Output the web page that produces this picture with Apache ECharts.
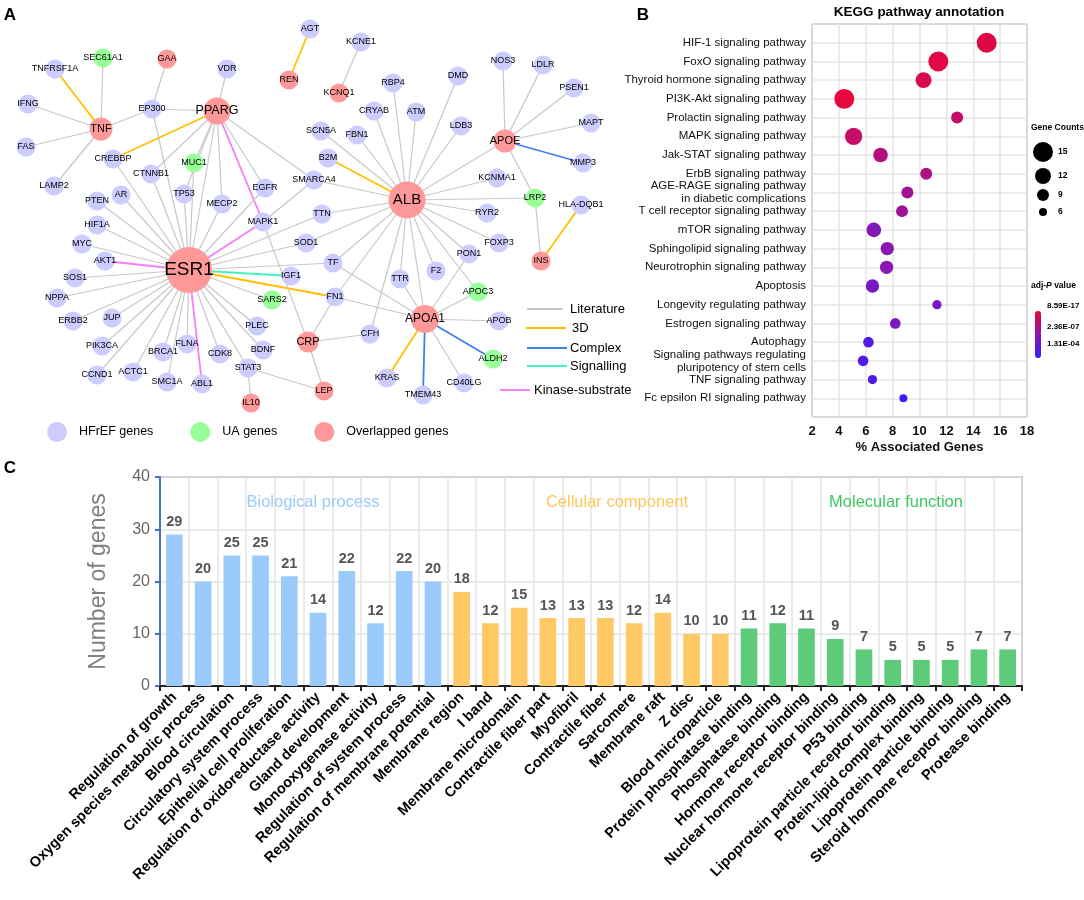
<!DOCTYPE html>
<html><head><meta charset="utf-8">
<script src="https://cdn.jsdelivr.net/npm/echarts@6/dist/echarts.min.js"></script>
<style>html,body{margin:0;padding:0;background:#fff}#c{width:1084px;height:900px}</style>
</head><body><div id="c"></div>
<script>
// ================= Panel A : network =================
const geneNames = ['SEC61A1','TNFRSF1A','GAA','VDR','IFNG','EP300','PPARG','TNF','FAS','CREBBP','MUC1','CTNNB1','LAMP2','AR','PTEN','TP53','MECP2','EGFR','HIF1A','MAPK1','MYC','AKT1','ESR1','SOS1','NPPA','JUP','ERBB2','PIK3CA','BRCA1','FLNA','CDK8','STAT3','CCND1','ACTC1','SMC1A','ABL1','IL10','PLEC','BDNF','SARS2','IGF1','AGT','KCNE1','REN','KCNQ1','RBP4','DMD','NOS3','CRYAB','ATM','LDB3','SCN5A','FBN1','APOE','B2M','KCNMA1','SMARCA4','ALB','LDLR','PSEN1','MAPT','MMP3','LRP2','HLA-DQB1','RYR2','FOXP3','INS','TTN','SOD1','TF','PON1','TTR','F2','APOC3','FN1','APOA1','APOB','CFH','CRP','ALDH2','KRAS','CD40LG','LEP','TMEM43'];
// 0 = HFrEF genes, 1 = UA genes, 2 = Overlapped genes
const geneGroup = [1,0,2,0,0,0,2,2,0,0,1,0,0,0,0,0,0,0,0,0,0,0,2,0,0,0,0,0,0,0,0,0,0,0,0,0,2,0,0,1,0,0,0,2,2,0,0,0,0,0,0,0,0,2,0,0,0,2,0,0,0,0,1,0,0,0,2,0,0,0,0,0,0,1,0,2,0,0,2,1,0,0,2,0];
const geneX = [103,55,167,227,28,152,217,101,26,113,194,151,54,121,97,184,222,265,97,263,82,105,189,75,57,112,73,102,163,187,220,248,97,133,167,202,251,257,263,272,291,310,361,289,339,393,458,503,374,416,461,321,357,505,328,497,314,407,543,574,591,583,535,581,487,499,541,322,306,333,469,400,436,478,335,425,499,370,308,493,387,464,324,423];
const geneY = [58,69,59,69,104,109,111,129,147,159,163,174,186,195,201,194,204,188,225,222,244,261,270,278,298,318,321,346,352,344,354,368,375,372,382,384,403,326,350,300,276,29,42,80,93,83,76,61,111,112,126,131,135,141,158,178,180,200,65,88,123,163,198,205,213,243,261,214,243,263,254,279,271,292,297,319,321,334,342,359,378,383,391,395];
const nodeGroups = ['HFrEF genes','UA genes','Overlapped genes'];
const edgeTypes = ['Literature','3D','Complex','Signalling','Kinase-substrate'];
const edges = [
 ['TNF','TNFRSF1A','3D'],['TNF','SEC61A1','Literature'],['TNF','IFNG','Literature'],['TNF','FAS','Literature'],['TNF','LAMP2','Literature'],['TNF','EP300','Literature'],
 ['EP300','GAA','Literature'],['EP300','PPARG','Literature'],['EP300','ESR1','Literature'],
 ['PPARG','VDR','Literature'],['PPARG','CREBBP','3D'],['PPARG','CTNNB1','Literature'],['PPARG','MUC1','Literature'],['PPARG','TP53','Literature'],['PPARG','MECP2','Literature'],['PPARG','MAPK1','Kinase-substrate'],['PPARG','EGFR','Literature'],['PPARG','SMARCA4','Literature'],['PPARG','ESR1','Literature'],
 ['ESR1','CREBBP','Literature'],['ESR1','CTNNB1','Literature'],['ESR1','TP53','Literature'],['ESR1','MECP2','Literature'],['ESR1','MUC1','Literature'],['ESR1','AR','Literature'],['ESR1','PTEN','Literature'],['ESR1','HIF1A','Literature'],['ESR1','MYC','Literature'],['ESR1','AKT1','Kinase-substrate'],['ESR1','SOS1','Literature'],['ESR1','NPPA','Literature'],['ESR1','ERBB2','Literature'],['ESR1','JUP','Literature'],['ESR1','PIK3CA','Literature'],['ESR1','CCND1','Literature'],['ESR1','ACTC1','Literature'],['ESR1','BRCA1','Literature'],['ESR1','SMC1A','Literature'],['ESR1','FLNA','Literature'],['ESR1','ABL1','Kinase-substrate'],['ESR1','CDK8','Literature'],['ESR1','STAT3','Literature'],['ESR1','BDNF','Literature'],['ESR1','PLEC','Literature'],['ESR1','SARS2','Literature'],['ESR1','FN1','3D'],['ESR1','IGF1','Signalling'],['ESR1','TF','Literature'],['ESR1','SOD1','Literature'],['ESR1','TTN','Literature'],['ESR1','MAPK1','Kinase-substrate'],['ESR1','EGFR','Literature'],
 ['MAPK1','SMARCA4','Literature'],['MAPK1','CRP','Literature'],
 ['ALB','B2M','3D'],['ALB','SCN5A','Literature'],['ALB','FBN1','Literature'],['ALB','CRYAB','Literature'],['ALB','RBP4','Literature'],['ALB','ATM','Literature'],['ALB','DMD','Literature'],['ALB','LDB3','Literature'],['ALB','APOE','Literature'],['ALB','KCNMA1','Literature'],['ALB','LRP2','Literature'],['ALB','RYR2','Literature'],['ALB','FOXP3','Literature'],['ALB','PON1','Literature'],['ALB','APOC3','Literature'],['ALB','F2','Literature'],['ALB','APOA1','Literature'],['ALB','TTR','Literature'],['ALB','CFH','Literature'],['ALB','FN1','Literature'],['ALB','TF','Literature'],['ALB','SOD1','Literature'],['ALB','TTN','Literature'],['ALB','SMARCA4','Literature'],
 ['APOA1','TF','Literature'],['APOA1','FN1','Literature'],['APOA1','TTR','Literature'],['APOA1','PON1','Literature'],['APOA1','APOC3','Literature'],['APOA1','APOB','Literature'],['APOA1','ALDH2','Complex'],['APOA1','CD40LG','Literature'],['APOA1','TMEM43','Complex'],['APOA1','KRAS','3D'],
 ['CRP','FN1','Literature'],['CRP','CFH','Literature'],['CRP','LEP','Literature'],
 ['STAT3','IL10','Literature'],['STAT3','LEP','Literature'],
 ['APOE','NOS3','Literature'],['APOE','LDLR','Literature'],['APOE','PSEN1','Literature'],['APOE','MAPT','Literature'],['APOE','MMP3','Complex'],['APOE','LRP2','Literature'],
 ['LRP2','INS','Literature'],['INS','HLA-DQB1','3D'],['AGT','REN','3D'],['KCNE1','KCNQ1','Literature']
];

// ================= Panel B : KEGG bubbles =================
const pathways = ['HIF-1 signaling pathway','FoxO signaling pathway','Thyroid hormone signaling pathway','PI3K-Akt signaling pathway','Prolactin signaling pathway','MAPK signaling pathway','Jak-STAT signaling pathway','ErbB signaling pathway','AGE-RAGE signaling pathway\nin diabetic complications','T cell receptor signaling pathway','mTOR signaling pathway','Sphingolipid signaling pathway','Neurotrophin signaling pathway','Apoptosis','Longevity regulating pathway','Estrogen signaling pathway','Autophagy','Signaling pathways regulating\npluripotency of stem cells','TNF signaling pathway','Fc epsilon RI signaling pathway'];
const pctGenes = [15.0,11.4,10.3,4.4,12.8,5.1,7.1,10.5,9.1,8.7,6.6,7.6,7.55,6.5,11.3,8.2,6.2,5.8,6.5,8.8];
const geneCounts = [15,15,12,15,9,13,11,9,9,9,11,10,10,10,7,8,8,8,7,6];
// -log10(adj-P)
const adjPScore = [15.5,15.6,15.1,16.07,13.6,13.9,12.7,12.4,11.4,11.2,9.4,10,10,8.5,8.5,8.8,5.7,5.6,5.5,4.5];
const countLegend = [15,12,9,6];
const pLegendLabels = ['8.59E-17','2.36E-07','1.31E-04'];
const pScoreRange = [3.88,16.07];

// ================= Panel C : GO bars =================
const goTerms = ['Regulation of growth','Oxygen species metabolic process','Blood circulation','Circulatory system process','Epithelial cell proliferation','Regulation of oxidoreductase activity','Gland development','Monooxygenase activity','Regulation of system process','Regulation of membrane potential','Membrane region','I band','Membrane microdomain','Contractile fiber part','Myofibril','Contractile fiber','Sarcomere','Membrane raft','Z disc','Blood microparticle','Protein phosphatase binding','Phosphatase binding','Hormone receptor binding','Nuclear hormone receptor binding','P53 binding','Lipoprotein particle receptor binding','Protein-lipid complex binding','Lipoprotein particle binding','Steroid hormone receptor binding','Protease binding'];
const goCounts = [29,20,25,25,21,14,22,12,22,20,18,12,15,13,13,13,12,14,10,10,11,12,11,9,7,5,5,5,7,7];
const goClass = [0,0,0,0,0,0,0,0,0,0,1,1,1,1,1,1,1,1,1,1,2,2,2,2,2,2,2,2,2,2];
const goClassNames = ['Biological process','Cellular component','Molecular function'];

// ================= styles =================
const FONT = 'Liberation Sans, Arial, Helvetica, sans-serif';
const groupColors = ['#CCCCFF','#99FF99','#FF9999'];
const edgeColors = {'Literature':'#C8C8C8','3D':'#FFC000','Complex':'#3F7FEF','Signalling':'#44F0C4','Kinase-substrate':'#F57EF5'};
const hubSize = {ESR1:46, ALB:37, APOA1:28, PPARG:27, TNF:23, APOE:23, CRP:21};
const hubFont = {ESR1:19, ALB:15, APOA1:12, PPARG:12.5, TNF:11, APOE:11, CRP:11};
const goColors = ['#9ACBFA','#FFCA66','#5DCB79'];
const goTitleColors = ['#9DCBF9','#FFC65A','#3CC860'];
const bubbleSize = c => c * 1.33;

const chart = echarts.init(document.getElementById('c'), null, {renderer:'canvas'});

const graphic = [];
const txt = (text, x, y, font, align, fill, extra) => graphic.push({type:'text', z:100, style:Object.assign({text, x, y, font, textAlign:align||'left', textVerticalAlign:'middle', fill:fill||'#000'}, extra||{})});
// panel letters
txt('A', 10, 15, 'bold 17px '+FONT, 'center');
txt('B', 643, 15, 'bold 17px '+FONT, 'center');
txt('C', 10, 468, 'bold 17px '+FONT, 'center');
// edge legend
const edgeLegendPos = [[527,563,309,570],[526,566,328,572],[527,567,348,570],[527,567,366,570],[500,530,390,534]];
edgeTypes.forEach((t,i)=>{
  const p = edgeLegendPos[i];
  graphic.push({type:'line', z:100, shape:{x1:p[0],y1:p[2],x2:p[1],y2:p[2]}, style:{stroke:edgeColors[t], lineWidth:2}});
  txt(t, p[3], p[2], '13px '+FONT, 'left', '#000');
});
// panel B title + legends
txt('KEGG pathway annotation', 919, 12, 'bold 13.5px '+FONT, 'center');
txt('Gene Counts', 1031, 128, 'bold 8.5px '+FONT, 'left');
const countY = [152,176,195,212];
countLegend.forEach((c,i)=>{
  graphic.push({type:'circle', z:100, shape:{cx:1043, cy:countY[i], r:bubbleSize(c)/2}, style:{fill:'#000'}});
  txt(String(c), 1058, countY[i], 'bold 8.5px '+FONT, 'left');
});
graphic.push({type:'text', z:100, style:{text:'adj-{i|P} value', x:1031, y:286, font:'bold 8.5px '+FONT, textVerticalAlign:'middle', fill:'#000', rich:{i:{fontStyle:'italic', fontWeight:'bold', fontSize:8.5, fontFamily:FONT}}}});
const pLabY = [306,327,344];
pLegendLabels.forEach((l,i)=> txt(l, 1047, pLabY[i], 'bold 8px '+FONT, 'left'));
// panel C group titles
const goTitleX = [313,617,896];
goClassNames.forEach((n,i)=> txt(n, goTitleX[i], 502, '16.5px '+FONT, 'center', goTitleColors[i]));

const option = {
  animation:false,
  backgroundColor:'#fff',
  legend:{data:nodeGroups, left:42, top:417, orient:'horizontal', icon:'circle', itemWidth:34, itemHeight:20, itemGap:37, selectedMode:false,
    textStyle:{fontSize:12.5, fontFamily:FONT, color:'#000'}},
  grid:[
    {left:0, top:0, width:620, height:450},
    {left:812, top:24, width:215, height:393, show:true, borderColor:'#666', borderWidth:1, backgroundColor:'#fff'},
    {left:160, top:477, right:62, height:209, show:true, borderColor:'#A8A8A8', borderWidth:2}
  ],
  xAxis:[
    {type:'value', gridIndex:0, min:0, max:620, show:false},
    {type:'value', gridIndex:1, min:2, max:18, interval:2, axisLine:{show:false}, axisTick:{show:false},
      axisLabel:{fontWeight:'bold', fontSize:13, color:'#111', fontFamily:FONT, margin:8},
      splitLine:{show:true, lineStyle:{color:'#E6E6E6', width:1.5}},
      name:'% Associated Genes', nameLocation:'middle', nameGap:24,
      nameTextStyle:{fontWeight:'bold', fontSize:13, color:'#111', fontFamily:FONT}},
    {type:'category', gridIndex:2, data:goTerms,
      axisLine:{lineStyle:{color:'#222', width:2}}, axisTick:{show:true, length:5, lineStyle:{color:'#222', width:2}},
      axisLabel:{interval:0, rotate:45, fontSize:14.5, fontWeight:'bold', color:'#000', fontFamily:FONT, margin:9},
      splitLine:{show:true, lineStyle:{color:'#E3E3E3', width:1.5}}}
  ],
  yAxis:[
    {type:'value', gridIndex:0, min:0, max:450, inverse:true, show:false},
    {type:'value', gridIndex:1, min:-1, max:20, interval:1, inverse:true, axisLine:{show:false}, axisTick:{show:false},
      axisLabel:{formatter:v=>pathways[v]||'', fontSize:11.5, lineHeight:13, color:'#111', fontFamily:FONT, margin:6},
      splitLine:{show:true, lineStyle:{color:'#E6E6E6', width:1.5}}},
    {type:'value', gridIndex:2, min:0, max:40, interval:10,
      axisLine:{show:true, lineStyle:{color:'#4472C4', width:2}}, axisTick:{show:true, length:5, lineStyle:{color:'#4472C4', width:2}},
      axisLabel:{fontSize:16, color:'#666', fontFamily:FONT, margin:10},
      splitLine:{show:true, lineStyle:{color:'#E3E3E3', width:1.5}},
      name:'Number of genes', nameLocation:'middle', nameGap:50,
      nameTextStyle:{fontSize:23, color:'#7F7F7F', fontFamily:FONT}}
  ],
  visualMap:{type:'continuous', seriesIndex:1, dimension:2, min:pScoreRange[0], max:pScoreRange[1], calculable:false,
    left:1020, top:296, itemWidth:6, itemHeight:47, inRange:{color:['#3C1DFA','#8A17B0','#E8073C']}},
  graphic:graphic,
  series:[
    {type:'graph', coordinateSystem:'cartesian2d', xAxisIndex:0, yAxisIndex:0, layout:'none', symbol:'circle',
      categories:nodeGroups.map((n,i)=>({name:n, itemStyle:{color:groupColors[i]}})),
      data:geneNames.map((n,i)=>({name:n, value:[geneX[i],geneY[i]], category:geneGroup[i], symbolSize:hubSize[n]||19,
        label:{fontSize:hubFont[n]||9}})),
      links:edges.map(e=>({source:e[0], target:e[1], lineStyle:{color:edgeColors[e[2]], width:e[2]==='Literature'?1.2:1.8}})),
      label:{show:true, position:'inside', color:'#000', fontFamily:FONT, fontSize:9},
      lineStyle:{opacity:1, curveness:0},
      emphasis:{disabled:true}, silent:true},
    {type:'scatter', xAxisIndex:1, yAxisIndex:1,
      data:pathways.map((p,i)=>[pctGenes[i], i, adjPScore[i], geneCounts[i]]),
      symbolSize:v=>bubbleSize(v[3]), itemStyle:{opacity:1}, silent:true},
    {type:'bar', xAxisIndex:2, yAxisIndex:2, barWidth:'58%',
      data:goCounts.map((v,i)=>({value:v, itemStyle:{color:goColors[goClass[i]]}})),
      label:{show:true, position:'top', fontSize:14.5, fontWeight:'bold', color:'#555', fontFamily:FONT, distance:5},
      silent:true}
  ]
};
chart.setOption(option);
</script>
</body></html>
